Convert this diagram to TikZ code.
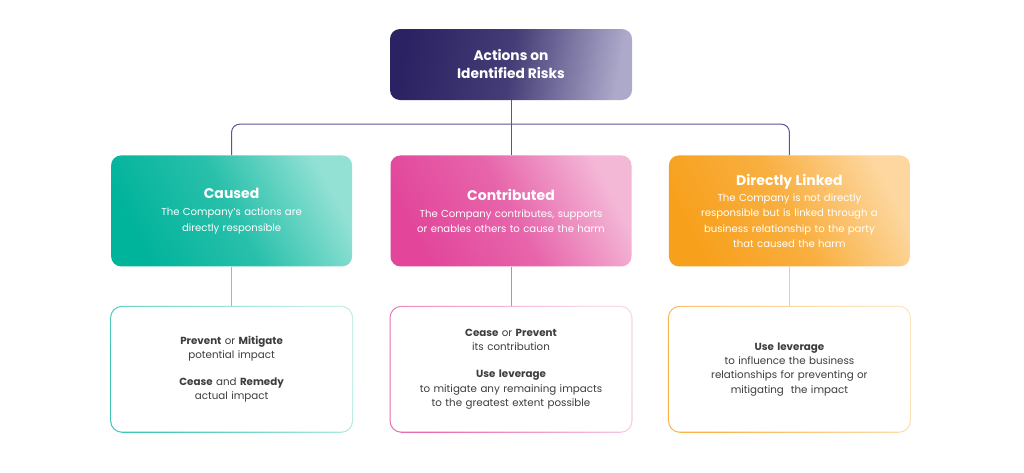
\documentclass[tikz,border=0pt]{standalone}
\usepackage{fontspec}
\setmainfont{Poppins}
\usepackage{tikz}
\usetikzlibrary{positioning, calc}

\definecolor{navydark}{HTML}{2A2262}
\definecolor{navylight}{HTML}{ADA9CA}
\definecolor{navyline}{HTML}{5B5593}
\definecolor{tealdark}{HTML}{00B39B}
\definecolor{teallight}{HTML}{92E1D4}
\definecolor{pinkdark}{HTML}{E2459A}
\definecolor{pinklight}{HTML}{F4B8D7}
\definecolor{orangedark}{HTML}{F7A01C}
\definecolor{orangelight}{HTML}{FDD79F}
\definecolor{bodytext}{HTML}{3D3D3D}

\begin{document}
\begin{tikzpicture}[
  topbox/.style={rounded corners=10pt, minimum width=242pt, minimum height=71pt,
                 inner sep=0pt, align=center, text=white,
                 font=\fontsize{13.8}{18}\selectfont\bfseries,
                 shading=axis, left color=navydark, right color=navylight,
                 middle color=navydark!80!navylight, shading angle=80},
  kind/.style 2 args={rounded corners=10pt, minimum width=241pt, minimum height=111pt,
                 inner sep=0pt, text width=225pt, align=center, text=white,
                 font=\fontsize{10.1}{15.3}\selectfont,
                 shading=axis, bottom color=#1, top color=#2,
                 middle color=#1!72!#2, shading angle=-62},
  action/.style 2 args={rounded corners=12pt, minimum width=243pt, minimum height=127pt,
                 inner sep=0pt, text width=228pt, align=center, text=bodytext,
                 font=\fontsize{10.3}{14.4}\selectfont, fill=white,
                 path picture={
                   \shade[bottom color=#1, top color=#2, shading angle=-62]
                     (path picture bounding box.south west) rectangle (path picture bounding box.north east);
                   \fill[white, rounded corners=11pt]
                     ([shift={(1.1pt,1.1pt)}]path picture bounding box.south west) rectangle
                     ([shift={(-1.1pt,-1.1pt)}]path picture bounding box.north east);
                 }},
  link/.style={draw=#1, line width=1pt}
]
\fill[white] (0,0) rectangle (1024pt,-472pt);

\node[topbox] (top) at (511pt,-64.5pt) {Actions on\\Identified Risks};

\node[kind={pinkdark}{pinklight}, below=55pt of top] (contrib) {%
{\fontsize{14}{15}\selectfont\bfseries Contributed}\\[2pt]
The Company contributes, supports\\
or enables others to cause the harm};

\node[kind={tealdark}{teallight}, left=38pt of contrib] (caused) {%
{\fontsize{14}{15}\selectfont\bfseries Caused}\\[2pt]
The Company's actions are\\
directly responsible};

\node[kind={orangedark}{orangelight}, right=37pt of contrib] (linked) {%
{\fontsize{14}{15}\selectfont\bfseries Directly Linked}\\[1pt]
The Company is not directly\\
responsible but is linked through a\\
business relationship to the party\\
that caused the harm};

\node[action={tealdark!75}{teallight!60}, below=39pt of caused] (causedact) {%
\textbf{Prevent} or \textbf{Mitigate}\\
potential impact\\[12.5pt]
\textbf{Cease} and \textbf{Remedy}\\
actual impact};

\node[action={pinkdark!80}{pinklight!60}, below=39pt of contrib] (contribact) {%
\textbf{Cease} or \textbf{Prevent}\\
its contribution\\[12.5pt]
\textbf{Use leverage}\\
to mitigate any remaining impacts\\
to the greatest extent possible};

\node[action={orangedark!80}{orangelight!70}, below=39pt of linked] (linkedact) {%
\textbf{Use leverage}\\
to influence the business\\
relationships for preventing or\\
mitigating~ the impact};

\coordinate (hub) at ([yshift=-24pt]top.south);
\draw[link=navyline] (top) -- (contrib);
\draw[link=navyline, rounded corners=8pt] (caused.north) |- (hub) -| (linked.north);

\draw[link=tealdark!60] (caused) -- (causedact);
\draw[link=pinkdark!75] (contrib) -- (contribact);
\draw[link=orangedark!55] (linked) -- (linkedact);
\end{tikzpicture}
\end{document}
